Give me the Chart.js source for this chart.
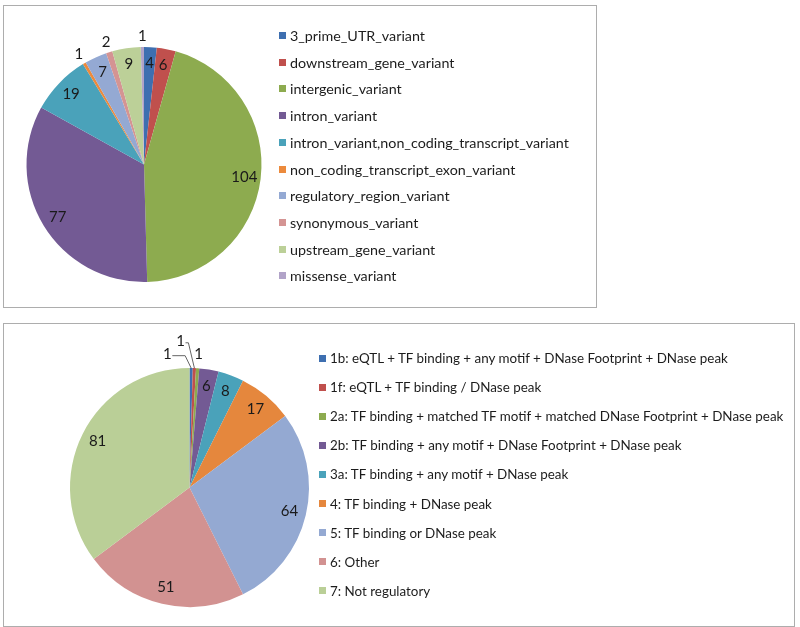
<!DOCTYPE html>
<html>
<head>
<meta charset="utf-8">
<script src="https://cdn.jsdelivr.net/npm/chart.js@4.4.0/dist/chart.umd.min.js"></script>
<style>
  body { margin: 0; background: #fff; width: 800px; height: 627px; overflow: hidden; position: relative; font-family: Lato, 'Open Sans', sans-serif; color: #1c1c1c; }
  .panel { position: absolute; border: 1px solid #adadad; box-sizing: border-box; }
  canvas { position: absolute; }
  .legend { position: absolute; }
  .legend .row { position: absolute; left: 0; display: flex; align-items: center; white-space: nowrap; }
  .legend .box { width: 7px; height: 7px; margin-right: 4px; flex: none; }
</style>
</head>
<body>
<div class="panel" style="left:3px; top:5px; width:594px; height:303px"></div>
<div class="panel" style="left:3px; top:323px; width:792px; height:304px"></div>
<canvas id="variants" width="280" height="281" style="left:4px; top:24px"></canvas>
<canvas id="regulome" width="311" height="321" style="left:34px; top:327px"></canvas>
<div class="legend" id="variants-legend" style="left:279px; top:27px; font-size:14.3px"></div>
<div class="legend" id="regulome-legend" style="left:319px; top:350px; font-size:13.4px"></div>
<script>
// top chart: variant consequences
const variantLabels = ['3_prime_UTR_variant', 'downstream_gene_variant', 'intergenic_variant', 'intron_variant',
  'intron_variant,non_coding_transcript_variant', 'non_coding_transcript_exon_variant', 'regulatory_region_variant',
  'synonymous_variant', 'upstream_gene_variant', 'missense_variant']
const variantCounts = [4, 6, 104, 77, 19, 1, 7, 2, 9, 1]
const variantColors = ['#3e6fb0', '#c0504d', '#8dab4f', '#735a94', '#4aa2ba', '#ec8a3c', '#94a9d3', '#d49493', '#bcd098', '#b1a3c8']

// bottom chart: RegulomeDB scores
const regLabels = ['1b: eQTL + TF binding + any motif + DNase Footprint + DNase peak', '1f: eQTL + TF binding / DNase peak',
  '2a: TF binding + matched TF motif + matched DNase Footprint + DNase peak', '2b: TF binding + any motif + DNase Footprint + DNase peak',
  '3a: TF binding + any motif + DNase peak', '4: TF binding + DNase peak', '5: TF binding or DNase peak', '6: Other', '7: Not regulatory']
const regCounts = [1, 1, 1, 6, 8, 17, 64, 51, 81]
const regColors = ['#3e6fb0', '#c0504d', '#8dab4f', '#735a94', '#4aa2ba', '#e5873d', '#94a9d2', '#d29291', '#bacf97']

// draws the value next to each slice, inside or outside the pie
const sliceLabels = {
  id: 'sliceLabels',
  afterDatasetsDraw(chart, args, opts) {
    const ctx = chart.ctx
    const values = chart.data.datasets[0].data
    ctx.save()
    ctx.font = opts.font
    ctx.fillStyle = '#1a1a1a'
    ctx.textAlign = 'center'
    ctx.textBaseline = 'middle'
    chart.getDatasetMeta(0).data.forEach((arc, i) => {
      const p = arc.getProps(['x', 'y', 'startAngle', 'endAngle', 'outerRadius'], true)
      const mid = (p.startAngle + p.endAngle) / 2
      const outside = values[i] <= opts.outsideMax
      const shift = (opts.shifts && opts.shifts[i]) || [0, 0]
      const r = outside ? p.outerRadius * opts.outer + shift[1] : p.outerRadius * opts.inner
      const lx = p.x + Math.cos(mid) * r + shift[0]
      const ly = p.y + Math.sin(mid) * r
      if (outside && shift[0] !== 0) {
        const ex = p.x + Math.cos(mid) * p.outerRadius
        const ey = p.y + Math.sin(mid) * p.outerRadius
        ctx.strokeStyle = '#666'
        ctx.lineWidth = 1
        ctx.beginPath()
        ctx.moveTo(lx + 5, ly + 2)
        ctx.lineTo(ex - 6, ly + 2)
        ctx.lineTo(ex, ey)
        ctx.stroke()
      }
      ctx.fillText(String(values[i]), lx, ly)
    })
    ctx.restore()
  }
}

function makePie(id, labels, counts, colors, radius, labelOpts) {
  return new Chart(document.querySelector(id), {
    type: 'pie',
    data: {
      labels: labels,
      datasets: [{ data: counts, backgroundColor: colors, borderWidth: 0 }]
    },
    options: {
      responsive: false,
      animation: false,
      radius: radius,
      layout: { padding: 0 },
      plugins: { legend: { display: false }, tooltip: { enabled: false }, sliceLabels: labelOpts }
    },
    plugins: [sliceLabels]
  })
}

makePie('#variants', variantLabels, variantCounts, variantColors, 117.5,
  { font: '15px Lato, sans-serif', inner: 0.86, outer: 1.09, outsideMax: 2 })
makePie('#regulome', regLabels, regCounts, regColors, 119.5,
  { font: '15px Lato, sans-serif', inner: 0.86, outer: 1.12, outsideMax: 1, shifts: [[-24, 0], [-15, 13], [0, 0]] })

// legends as plain html rows
function buildLegend(id, labels, colors, step) {
  const box = document.querySelector(id)
  labels.forEach((text, i) => {
    const row = document.createElement('div')
    row.className = 'row'
    row.style.top = (i * step) + 'px'
    row.innerHTML = '<span class="box" style="background:' + colors[i] + '"></span><span></span>'
    row.lastChild.textContent = text
    box.appendChild(row)
  })
}
buildLegend('#variants-legend', variantLabels, variantColors, 26.7)
buildLegend('#regulome-legend', regLabels, regColors, 29.1)
</script>
</body>
</html>
